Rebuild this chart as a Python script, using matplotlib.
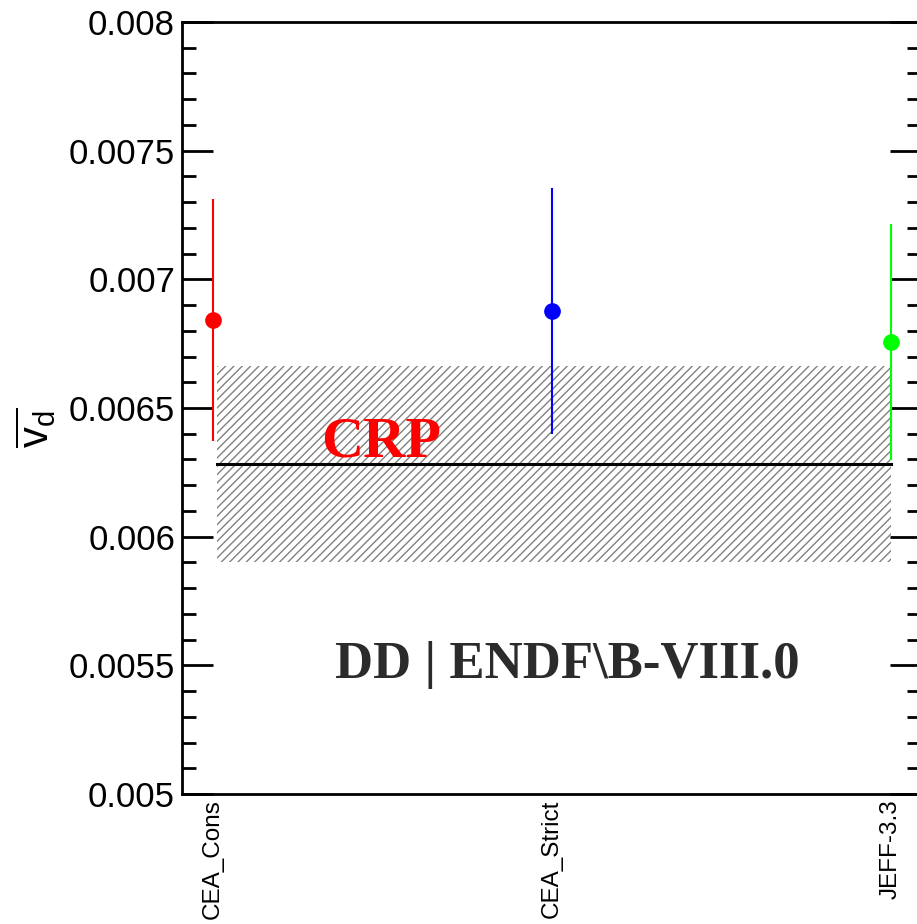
import numpy as np
import matplotlib
matplotlib.use("Agg")
import matplotlib.pyplot as plt
from matplotlib.ticker import MultipleLocator

# ── data ────────────────────────────────────────────────────────────────────
libraries = ["CEA_Cons", "CEA_Strict", "JEFF-3.3"]
nu_d = [0.006842, 0.006877, 0.006756]
nu_d_err = [0.000472, 0.000478, 0.000459]
colors = ["#ff0000", "#0000ff", "#00ff00"]

crp_value = 0.006282
crp_err = 0.000380

plt.rcParams["font.family"] = ["Liberation Sans", "DejaVu Sans"]
plt.rcParams["mathtext.fontset"] = "custom"
plt.rcParams["mathtext.rm"] = "Liberation Sans"
plt.rcParams["mathtext.it"] = "Liberation Sans"
plt.rcParams["hatch.linewidth"] = 1.0

fig = plt.figure(figsize=(9.17, 9.24), dpi=100)
ax = fig.add_axes([0.1985, 0.1407, 0.806, 0.8355])

x = np.arange(len(libraries))

# CRP band + central line
ax.fill_between([x[0] + 0.012, x[-1]], crp_value - crp_err, crp_value + crp_err,
                facecolor="none", edgecolor="#808080", hatch="////", linewidth=0)
ax.plot([x[0] + 0.012, x[-1]], [crp_value, crp_value], color="black", lw=2.2)

for xi, v, e, c in zip(x, nu_d, nu_d_err, colors):
    ax.errorbar(xi, v, yerr=e, fmt="o", color=c, ms=11, elinewidth=1.5,
                capsize=0, zorder=5)

ax.text(0.32, crp_value + 0.00003, "CRP", color="red", fontsize=42,
        fontweight="bold", family="Liberation Serif", ha="left", va="baseline")
ax.text(0.36, 0.0055, "DD | ENDF\\B-VIII.0", color="#2b2b2b", fontsize=38,
        fontweight="bold", family="Liberation Serif", ha="left", va="center")

ax.set_xlim(-0.0916, 2.09)
ax.set_ylim(0.005, 0.008)
ax.set_xticks(x)
ax.set_xticklabels(libraries, rotation=90, fontsize=17.5, va="top")
ax.tick_params(axis="x", length=0, pad=4)

ax.yaxis.set_major_locator(MultipleLocator(0.0005))
ax.yaxis.set_minor_locator(MultipleLocator(0.0001))
ax.set_yticklabels([f"{t:g}" for t in ax.get_yticks()])
ax.tick_params(axis="y", which="both", direction="in", left=True, right=True,
               labelsize=25, width=2, pad=5)
ax.tick_params(axis="y", which="major", length=22)
ax.tick_params(axis="y", which="minor", length=10)

ax.set_ylabel(r"$\overline{\mathrm{v}_{\mathrm{d}}}$", fontsize=30, rotation=90)
ax.yaxis.set_label_coords(-0.168, 0.475)

for s in ax.spines.values():
    s.set_linewidth(2)

fig.savefig("out.png", dpi=100)
